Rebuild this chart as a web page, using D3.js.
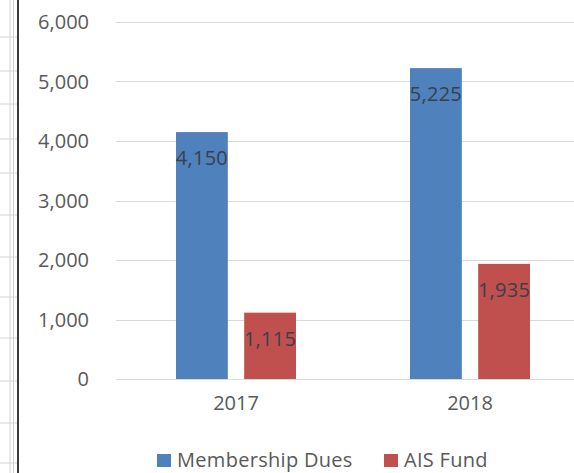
<!DOCTYPE html>
<html>
<head>
<meta charset="utf-8">
<script src="https://cdn.jsdelivr.net/npm/d3@7"></script>
<style>
body { margin: 0; background: #fff; }
text { font-family: "Open Sans", sans-serif; }
</style>
</head>
<body>
<div id="chart"></div>
<script>
// data
var years = ["2017", "2018"];
var seriesNames = ["Membership Dues", "AIS Fund"];
var membershipDues = [4150, 5225];
var aisFund = [1115, 1935];
var yTicks = [0, 1000, 2000, 3000, 4000, 5000, 6000];

var colors = ["#4F81BD", "#C0504D"];

//Make an SVG Container
var svg = d3.select("#chart").append("svg")
  .attr("width", 574)
  .attr("height", 473);

// spreadsheet edge behind the chart
var edge = svg.append("g");
edge.append("line").attr("x1", 10).attr("x2", 10).attr("y1", 0).attr("y2", 473)
  .attr("stroke", "#d4d4d4").attr("stroke-width", 1);
edge.append("line").attr("x1", 13.5).attr("x2", 13.5).attr("y1", 0).attr("y2", 473)
  .attr("stroke", "#d4d4d4").attr("stroke-width", 1);
[37, 71, 104, 139, 173, 215, 257, 297, 338, 381, 423, 463].forEach(function (y) {
  edge.append("line").attr("x1", 0).attr("x2", 18).attr("y1", y).attr("y2", y)
    .attr("stroke", "#d4d4d4").attr("stroke-width", 1);
});
edge.append("line").attr("x1", 18).attr("x2", 18).attr("y1", 0).attr("y2", 473)
  .attr("stroke", "#3a3a3a").attr("stroke-width", 2);

// scales
var y = d3.scaleLinear().domain([0, 6000]).range([379, 22]);
var x0 = d3.scaleBand().domain(years).range([119, 587]);
var x1 = d3.scaleBand().domain(seriesNames)
  .range([x0.bandwidth() / 2 - 60, x0.bandwidth() / 2 + 60])
  .paddingInner(0.24);

// gridlines
svg.append("g").selectAll("line")
  .data(yTicks)
  .join("line")
  .attr("x1", 116).attr("x2", 574)
  .attr("y1", function (d) { return Math.round(y(d)) + 0.5; })
  .attr("y2", function (d) { return Math.round(y(d)) + 0.5; })
  .attr("stroke", "#d9d9d9").attr("stroke-width", 1);

// y axis labels
var yAxis = d3.axisLeft(y).tickValues(yTicks).tickFormat(d3.format(",")).tickSize(0).tickPadding(0);
var yg = svg.append("g").attr("transform", "translate(89,0)").call(yAxis);
yg.select(".domain").remove();
yg.selectAll("text").attr("fill", "#595959").style("font-size", "20px").attr("dy", "0.34em");

// x axis labels
var xAxis = d3.axisBottom(x0).tickSize(0).tickPadding(0);
var xg = svg.append("g").attr("transform", "translate(0,396)").call(xAxis);
xg.select(".domain").remove();
xg.selectAll("text").attr("fill", "#595959").style("font-size", "20px").attr("dy", "0.71em");

// bars
var rows = years.map(function (yr, i) {
  return { year: yr, values: [membershipDues[i], aisFund[i]] };
});

var groups = svg.append("g").selectAll("g")
  .data(rows)
  .join("g")
  .attr("transform", function (d) { return "translate(" + x0(d.year) + ",0)"; });

groups.selectAll("rect")
  .data(function (d) { return d.values.map(function (v, j) { return { name: seriesNames[j], value: v, idx: j }; }); })
  .join("rect")
  .attr("x", function (d) { return x1(d.name); })
  .attr("width", x1.bandwidth())
  .attr("y", function (d) { return y(d.value); })
  .attr("height", function (d) { return y(0) - y(d.value); })
  .attr("fill", function (d) { return colors[d.idx]; });

groups.selectAll("text.lbl")
  .data(function (d) { return d.values.map(function (v, j) { return { name: seriesNames[j], value: v }; }); })
  .join("text")
  .attr("class", "lbl")
  .attr("x", function (d) { return x1(d.name) + x1.bandwidth() / 2; })
  .attr("y", function (d) { return y(d.value) + 26; })
  .attr("dy", "0.35em")
  .attr("text-anchor", "middle")
  .attr("fill", "#3a3f4a")
  .style("font-size", "20px")
  .style("letter-spacing", "0.3px")
  .text(function (d) { return d3.format(",")(d.value); });

// legend
var legend = svg.append("g").selectAll("g")
  .data(seriesNames)
  .join("g")
  .attr("transform", function (d, i) { return "translate(" + [157, 384][i] + ",454)"; });

legend.append("rect")
  .attr("width", 14).attr("height", 13)
  .attr("fill", function (d, i) { return colors[i]; });

legend.append("text")
  .attr("x", 20).attr("y", 6).attr("dy", "0.35em")
  .attr("fill", "#595959")
  .style("font-size", "20px")
  .style("letter-spacing", "0.3px")
  .text(function (d) { return d; });
</script>
</body>
</html>
